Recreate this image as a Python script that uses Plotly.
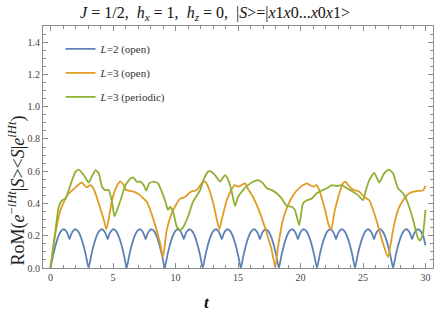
import plotly.graph_objects as go

# ---- data ----
t_L2_open = [0, 0.2, 0.4, 0.6, 0.8, 1.02, 1.2, 1.38, 1.52, 1.66, 1.84, 2.02, 2.24, 2.44, 2.64, 2.84,
             3.05, 3.25, 3.45, 3.65, 3.85, 4.07, 4.25, 4.43, 4.57, 4.71, 4.89, 5.07, 5.29, 5.49, 5.69, 5.89,
             6.09, 6.29, 6.49, 6.69, 6.89, 7.11, 7.29, 7.47, 7.61, 7.75, 7.93, 8.11, 8.33, 8.53, 8.73, 8.93,
             9.14, 9.34, 9.54, 9.74, 9.94, 10.16, 10.34, 10.52, 10.66, 10.80, 10.98, 11.16, 11.38, 11.58, 11.78, 11.98,
             12.18, 12.38, 12.58, 12.78, 12.98, 13.20, 13.38, 13.56, 13.70, 13.84, 14.02, 14.20, 14.42, 14.62, 14.82, 15.02,
             15.23, 15.43, 15.63, 15.83, 16.03, 16.25, 16.43, 16.61, 16.75, 16.89, 17.07, 17.25, 17.47, 17.67, 17.87, 18.07,
             18.27, 18.47, 18.67, 18.87, 19.07, 19.29, 19.47, 19.65, 19.79, 19.93, 20.11, 20.29, 20.51, 20.71, 20.91, 21.11,
             21.32, 21.52, 21.72, 21.92, 22.12, 22.34, 22.52, 22.70, 22.84, 22.98, 23.16, 23.34, 23.56, 23.76, 23.96, 24.16,
             24.36, 24.56, 24.76, 24.96, 25.16, 25.38, 25.56, 25.74, 25.88, 26.02, 26.20, 26.38, 26.60, 26.80, 27.00, 27.20,
             27.41, 27.61, 27.81, 28.01, 28.21, 28.43, 28.61, 28.79, 28.93, 29.07, 29.25, 29.43, 29.65, 29.85, 30.0]
v_L2_open = [0, 0.075, 0.14, 0.19, 0.224, 0.24, 0.233, 0.21, 0.178, 0.21, 0.233, 0.24, 0.224, 0.19, 0.14, 0.075,
             0, 0.075, 0.14, 0.19, 0.224, 0.24, 0.233, 0.21, 0.178, 0.21, 0.233, 0.24, 0.224, 0.19, 0.14, 0.075,
             0, 0.075, 0.14, 0.19, 0.224, 0.24, 0.233, 0.21, 0.178, 0.21, 0.233, 0.24, 0.224, 0.19, 0.14, 0.075,
             0, 0.075, 0.14, 0.19, 0.224, 0.24, 0.233, 0.21, 0.178, 0.21, 0.233, 0.24, 0.224, 0.19, 0.14, 0.075,
             0, 0.075, 0.14, 0.19, 0.224, 0.24, 0.233, 0.21, 0.178, 0.21, 0.233, 0.24, 0.224, 0.19, 0.14, 0.075,
             0, 0.075, 0.14, 0.19, 0.224, 0.24, 0.233, 0.21, 0.178, 0.21, 0.233, 0.24, 0.224, 0.19, 0.14, 0.075,
             0, 0.075, 0.14, 0.19, 0.224, 0.24, 0.233, 0.21, 0.178, 0.21, 0.233, 0.24, 0.224, 0.19, 0.14, 0.075,
             0, 0.075, 0.14, 0.19, 0.224, 0.24, 0.233, 0.21, 0.178, 0.21, 0.233, 0.24, 0.224, 0.19, 0.14, 0.075,
             0, 0.075, 0.14, 0.19, 0.224, 0.24, 0.233, 0.21, 0.178, 0.21, 0.233, 0.24, 0.224, 0.19, 0.14, 0.075,
             0, 0.075, 0.14, 0.19, 0.224, 0.24, 0.233, 0.21, 0.178, 0.21, 0.233, 0.24, 0.224, 0.19, 0.14]

t_L3_open = [0, 0.2, 0.45, 0.8, 1.33, 1.86, 2.39, 2.5, 2.9, 3.2, 3.46, 3.86, 4.26, 4.47, 4.65, 4.92,
             5.32, 5.59, 5.85, 6.06, 6.65, 7.18, 7.45, 7.7, 8.24, 8.78, 9.0, 9.3, 9.7, 10.1, 10.37,
             10.77, 11.17, 11.7, 12.1, 12.37, 12.63, 13.03, 13.5, 13.7, 14.1, 14.5, 14.76, 15.03, 15.3,
             15.56, 15.8, 16.2, 16.76, 17.3, 17.7, 17.98, 18.2, 18.6, 19.0, 19.4, 19.95, 20.5, 20.74,
             21.0, 21.28, 21.5, 21.9, 22.3, 22.47, 22.7, 23.1, 23.4, 23.6, 23.9, 24.3, 24.7, 25.1,
             25.5, 26.06, 26.6, 27.0, 27.4, 27.8, 28.3, 28.7, 29.25, 29.8, 30.0]
v_L3_open = [0, 0.12, 0.24, 0.36, 0.45, 0.49, 0.525, 0.53, 0.50, 0.514, 0.49, 0.40, 0.30, 0.24, 0.30, 0.42,
             0.51, 0.535, 0.515, 0.483, 0.473, 0.45, 0.43, 0.41, 0.30, 0.15, 0.066, 0.235, 0.34, 0.40, 0.43,
             0.44, 0.47, 0.483, 0.525, 0.535, 0.50, 0.40, 0.24, 0.30, 0.42, 0.49, 0.514, 0.504, 0.514,
             0.525, 0.49, 0.44, 0.34, 0.215, 0.11, 0.005, 0.13, 0.30, 0.39, 0.45, 0.50, 0.525, 0.514,
             0.504, 0.514, 0.483, 0.38, 0.256, 0.24, 0.34, 0.46, 0.525, 0.535, 0.504, 0.483, 0.473, 0.44,
             0.42, 0.30, 0.153, 0.066, 0.235, 0.36, 0.43, 0.463, 0.477, 0.48, 0.51]

t_L3_periodic = [0, 0.4, 0.66, 0.93, 1.2, 1.46, 1.73, 2.0, 2.26, 2.66, 3.06, 3.3, 3.6, 3.86, 4.12, 4.4,
                 4.65, 4.92, 5.12, 5.6, 6.0, 6.4, 6.65, 6.9, 7.18, 7.45, 7.66, 7.9, 8.24, 8.6, 8.9, 9.2,
                 9.4, 9.57, 9.84, 10.1, 10.37, 10.64, 11.0, 11.4, 11.97, 12.23, 12.6, 12.77, 13.16, 13.56,
                 13.96, 14.23, 14.5, 14.76, 15.0, 15.4, 15.8, 16.2, 16.6, 17.0, 17.3, 17.7, 18.1, 18.5,
                 18.9, 19.3, 19.55, 19.9, 20.2, 20.5, 20.9, 21.3, 21.7, 22.1, 22.5, 22.9, 23.3, 23.7,
                 24.2, 24.6, 25.0, 25.2, 25.5, 25.9, 26.3, 26.7, 27.07, 27.4, 27.8, 28.2, 28.6, 29.0,
                 29.4, 29.57, 29.8, 30.0]
v_L3_periodic = [0, 0.235, 0.38, 0.42, 0.43, 0.483, 0.545, 0.597, 0.61, 0.576, 0.53, 0.566, 0.607, 0.587, 0.504, 0.483,
                 0.483, 0.41, 0.32, 0.42, 0.514, 0.555, 0.56, 0.535, 0.535, 0.514, 0.48, 0.525, 0.535, 0.525, 0.473, 0.41,
                 0.36, 0.38, 0.34, 0.256, 0.235, 0.256, 0.318, 0.41, 0.483, 0.545, 0.597, 0.60, 0.576, 0.535,
                 0.576, 0.545, 0.473, 0.384, 0.44, 0.483, 0.514, 0.535, 0.545, 0.525, 0.494, 0.483, 0.463, 0.43,
                 0.384, 0.38, 0.36, 0.266, 0.40, 0.42, 0.43, 0.463, 0.48, 0.494, 0.514, 0.508, 0.514, 0.494,
                 0.473, 0.452, 0.42, 0.473, 0.545, 0.59, 0.53, 0.587, 0.61, 0.587, 0.494, 0.463, 0.40, 0.30,
                 0.184, 0.17, 0.215, 0.36]

series_names = ["<i>L</i>=2 (open)", "<i>L</i>=3 (open)", "<i>L</i>=3 (periodic)"]
series_colors = ["#5E81B5", "#E19C24", "#8FB032"]

x_ticks = [0, 5, 10, 15, 20, 25, 30]
y_ticks = [0.0, 0.2, 0.4, 0.6, 0.8, 1.0, 1.2, 1.4]
y_tick_labels = ["0.0", "0.2", "0.4", "0.6", "0.8", "1.0", "1.2", "1.4"]

# ---- figure ----
serif = "Liberation Serif, Times New Roman, serif"
fig = go.Figure()
for i, (tx, vy) in enumerate([(t_L2_open, v_L2_open), (t_L3_open, v_L3_open), (t_L3_periodic, v_L3_periodic)]):
    fig.add_trace(go.Scatter(x=tx, y=vy, mode="lines", name=series_names[i],
                             legendgroup=str(i),
                             line=dict(color=series_colors[i], width=1.8, shape="spline", smoothing=0.5)))

frame = "#8c8c8c"
tickfont = dict(family=serif, size=10, color="#444444")
fig.update_layout(
    width=436, height=314,
    margin=dict(l=43, r=3, t=26, b=46),
    paper_bgcolor="white", plot_bgcolor="white",
    font=dict(family=serif, color="#222222"),
    title=dict(text="<i>J</i> = 1/2,  <i>h<sub>x</sub></i> = 1,  <i>h<sub>z</sub></i> = 0,  |<i>S</i>>=|<i>x</i>1<i>x</i>0...<i>x</i>0<i>x</i>1>",
               x=215/436, xref="container", xanchor="center",
               y=1 - 12/314, yref="container", yanchor="middle",
               font=dict(family=serif, size=16, color="#111111")),
    showlegend=True,
    legend=dict(x=0.045, y=0.965, xanchor="left", yanchor="top",
                bgcolor="rgba(0,0,0,0)", font=dict(family=serif, size=11, color="#333333"),
                tracegroupgap=5, itemwidth=30),
    xaxis=dict(range=[-0.6, 30.6], tickvals=x_ticks, ticks="inside", ticklen=5, tickcolor=frame,
               showline=True, linecolor=frame, linewidth=1, mirror="ticks", showgrid=False, zeroline=False,
               tickfont=tickfont,
               minor=dict(dtick=1, ticks="inside", ticklen=3, tickcolor=frame)),
    yaxis=dict(range=[0, 1.5], tickvals=y_ticks, ticktext=y_tick_labels, ticks="inside", ticklen=5, tickcolor=frame,
               showline=True, linecolor=frame, linewidth=1, mirror="ticks", showgrid=False, zeroline=False,
               tickfont=tickfont,
               minor=dict(dtick=0.05, ticks="inside", ticklen=3, tickcolor=frame)),
)

fig.add_annotation(text="RoM(<i>e</i><sup>\u2212<i>iHt</i></sup>|<i>S</i>><<i>S</i>|<i>e</i><sup><i>iHt</i></sup>)",
                   xref="paper", yref="paper", x=-0.067, y=0.32, textangle=-90,
                   showarrow=False, xanchor="center", yanchor="middle",
                   font=dict(family=serif, size=18, color="#222222"))
fig.add_annotation(text="<b><i>t</i></b>", xref="paper", yref="paper", x=0.42, y=-0.095,
                   showarrow=False, xanchor="center", yanchor="top",
                   font=dict(family=serif, size=17, color="#111111"))

fig.write_html("out.html", config={"displayModeBar": False},
               post_script="document.body.style.margin='0';")
